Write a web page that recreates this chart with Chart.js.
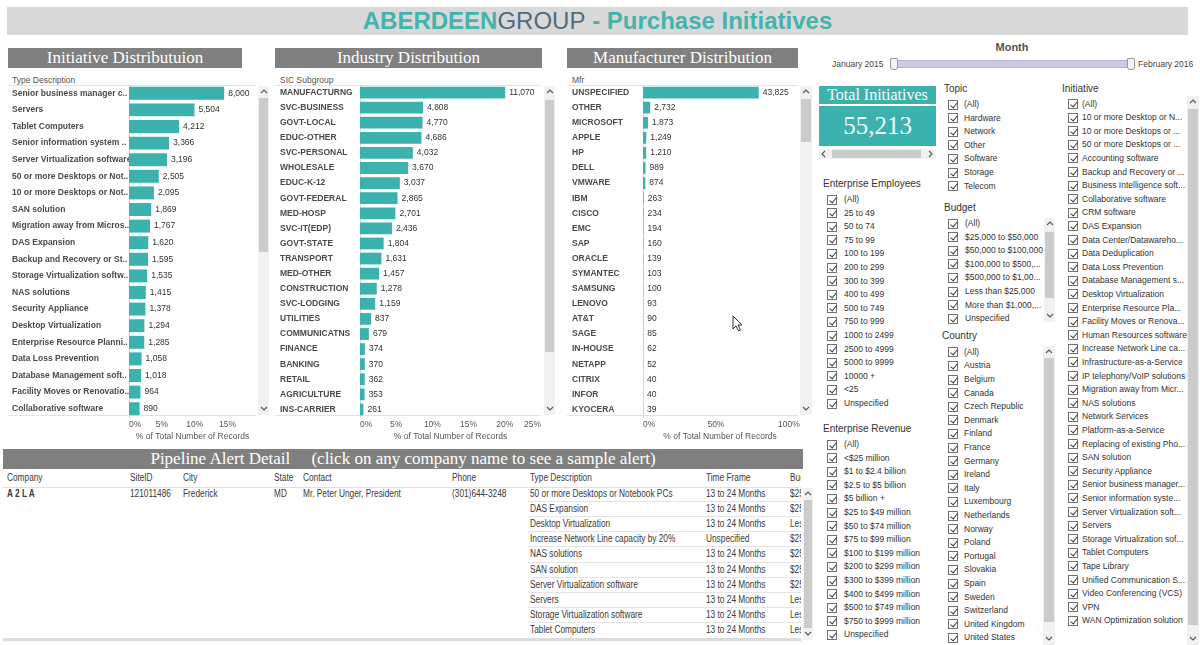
<!DOCTYPE html>
<html>
<head>
<meta charset="utf-8">
<title>ABERDEENGROUP - Purchase Initiatives</title>
<script src="https://cdn.jsdelivr.net/npm/chart.js@4.4.1/dist/chart.umd.min.js"></script>
<style>
  * { box-sizing: border-box; }
  body { margin: 0; width: 1200px; height: 645px; overflow: hidden; position: relative; background: #fff;
         font-family: "Liberation Sans", Arial, sans-serif; color: #333; }
  .a { position: absolute; white-space: nowrap; }
  .banner { left: 7px; top: 7px; width: 1181px; height: 28px; background: #d9d9d9; text-align: center;
            font: bold 24px/28px "Liberation Sans", sans-serif; color: #45b3ae; }
  .banner .g { color: #4f6d7e; font-weight: normal; }
  .hdr { background: #808080; color: #fff; font: 17px/20px "Liberation Serif", serif; text-align: center; height: 20px; }
  .sub { font-size: 8.5px; color: #555; }
  .pane { border-top: 1px solid #e3e3e3; border-bottom: 1px solid #e3e3e3; }
  .sb { background: #f1f1f1; }
  .th { position: absolute; background: #cbcbcb; }
  .ttl { font-size: 10px; color: #333; }
  .it { font-size: 8.5px; line-height: 13px; color: #333; }
  .cb { position: absolute; width: 10px; height: 10px; border: 1px solid #707070; background: #fff; }
  .cb::after { content: ""; position: absolute; left: 2.5px; top: 0px; width: 3px; height: 6px; border: solid #3a3a3a;
               border-width: 0 1.4px 1.4px 0; transform: rotate(40deg); }
  .tbl { font-family: "Liberation Sans", Arial, sans-serif; font-size: 10px; color: #3a3a3a; line-height: 12px;
         transform: scaleX(0.83); transform-origin: 0 50%; }
  canvas { position: absolute; }
</style>
</head>
<body>
<div class="a banner">ABERDEEN<span class="g">GROUP</span> - Purchase Initiatives</div>

<div class="a hdr" style="left:8px;top:48px;width:234px">Initiative Distributuion</div>
<div class="a hdr" style="left:275px;top:48px;width:267px">Industry Distribution</div>
<div class="a hdr" style="left:567px;top:48px;width:231px">Manufacturer Distribution</div>

<div class="a sub" style="left:12px;top:75px">Type Description</div>
<div class="a sub" style="left:280px;top:75px">SIC Subgroup</div>
<div class="a sub" style="left:572px;top:75px">Mfr</div>

<div class="a pane" style="left:8px;top:85px;width:248px;height:331px"></div>
<div class="a pane" style="left:275px;top:85px;width:266px;height:331px"></div>
<div class="a pane" style="left:567px;top:85px;width:231px;height:331px"></div>

<canvas id="initChart" width="252" height="368" style="left:8px;top:77px"></canvas>
<canvas id="indChart" width="276" height="368" style="left:275px;top:77px"></canvas>
<canvas id="mfrChart" width="233" height="368" style="left:567px;top:77px"></canvas>

<div id="side"></div>

<script>
const teal = '#3bb2ae';
const totalRecords = 55213;

// Initiative Distributuion
const initiativeLabels = ['Senior business manager c..', 'Servers', 'Tablet Computers', 'Senior information system ..',
  'Server Virtualization software', '50 or more Desktops or Not..', '10 or more Desktops or Not..', 'SAN solution',
  'Migration away from Micros..', 'DAS Expansion', 'Backup and Recovery or St..', 'Storage Virtualization softw..',
  'NAS solutions', 'Security Appliance', 'Desktop Virtualization', 'Enterprise Resource Planni..',
  'Data Loss Prevention', 'Database Management soft..', 'Facility Moves or Renovatio..', 'Collaborative software'];
const initiativeCounts = [8000, 5504, 4212, 3366, 3196, 2505, 2095, 1869, 1767, 1620,
  1595, 1535, 1415, 1378, 1294, 1285, 1058, 1018, 964, 890];
const initiativeTicks = [0, 5, 10, 15];

// Industry Distribution
const industryLabels = ['MANUFACTURNG', 'SVC-BUSINESS', 'GOVT-LOCAL', 'EDUC-OTHER', 'SVC-PERSONAL', 'WHOLESALE',
  'EDUC-K-12', 'GOVT-FEDERAL', 'MED-HOSP', 'SVC-IT(EDP)', 'GOVT-STATE', 'TRANSPORT', 'MED-OTHER', 'CONSTRUCTION',
  'SVC-LODGING', 'UTILITIES', 'COMMUNICATNS', 'FINANCE', 'BANKING', 'RETAIL', 'AGRICULTURE', 'INS-CARRIER'];
const industryCounts = [11070, 4808, 4770, 4686, 4032, 3670, 3037, 2865, 2701, 2436, 1804,
  1631, 1457, 1278, 1159, 837, 679, 374, 370, 362, 353, 261];
const industryTicks = [0, 5, 10, 15, 20, 25];

// Manufacturer Distribution
const mfrLabels = ['UNSPECIFIED', 'OTHER', 'MICROSOFT', 'APPLE', 'HP', 'DELL', 'VMWARE', 'IBM', 'CISCO', 'EMC', 'SAP',
  'ORACLE', 'SYMANTEC', 'SAMSUNG', 'LENOVO', 'AT&T', 'SAGE', 'IN-HOUSE', 'NETAPP', 'CITRIX', 'INFOR', 'KYOCERA'];
const mfrCounts = [43825, 2732, 1873, 1249, 1210, 989, 874, 263, 234, 194, 160,
  139, 103, 100, 93, 90, 85, 62, 52, 40, 40, 39];
const mfrTicks = [0, 50, 100];

// filter lists
const topicItems = ['(All)', 'Hardware', 'Network', 'Other', 'Software', 'Storage', 'Telecom'];
const employeeItems = ['(All)', '25 to 49', '50 to 74', '75 to 99', '100 to 199', '200 to 299', '300 to 399', '400 to 499',
  '500 to 749', '750 to 999', '1000 to 2499', '2500 to 4999', '5000 to 9999', '10000 +', '<25', 'Unspecified'];
const revenueItems = ['(All)', '<$25 million', '$1 to $2.4 billion', '$2.5 to $5 billion', '$5 billion +', '$25 to $49 million',
  '$50 to $74 million', '$75 to $99 million', '$100 to $199 million', '$200 to $299 million', '$300 to $399 million',
  '$400 to $499 million', '$500 to $749 million', '$750 to $999 million', 'Unspecified'];
const budgetItems = ['(All)', '$25,000 to $50,000', '$50,000 to $100,000', '$100,000 to $500,...', '$500,000 to $1,00...',
  'Less than $25,000', 'More than $1,000,...', 'Unspecified'];
const countryItems = ['(All)', 'Austria', 'Belgium', 'Canada', 'Czech Republic', 'Denmark', 'Finland', 'France', 'Germany',
  'Ireland', 'Italy', 'Luxembourg', 'Netherlands', 'Norway', 'Poland', 'Portugal', 'Slovakia', 'Spain', 'Sweden',
  'Switzerland', 'United Kingdom', 'United States'];
const initiativeFilterItems = ['(All)', '10 or more Desktop or N...', '10 or more Desktops or ...', '50 or more Desktops or ...',
  'Accounting software', 'Backup and Recovery or ...', 'Business Intelligence soft...', 'Collaborative software',
  'CRM software', 'DAS Expansion', 'Data Center/Datawareho...', 'Data Deduplication', 'Data Loss Prevention',
  'Database Management s...', 'Desktop Virtualization', 'Enterprise Resource Pla...', 'Facility Moves or Renova...',
  'Human Resources software', 'Increase Network Line ca...', 'Infrastructure-as-a-Service', 'IP telephony/VoIP solutions',
  'Migration away from Micr...', 'NAS solutions', 'Network Services', 'Platform-as-a-Service', 'Replacing of existing Pho...',
  'SAN solution', 'Security Appliance', 'Senior business manager...', 'Senior information syste...',
  'Server Virtualization soft...', 'Servers', 'Storage Virtualization sof...', 'Tablet Computers', 'Tape Library',
  'Unified Communication S...', 'Video Conferencing (VCS)', 'VPN', 'WAN Optimization solution'];

// pipeline table
const pipeHeaders = ['Company', 'SiteID', 'City', 'State', 'Contact', 'Phone', 'Type Description', 'Time Frame', 'Budget'];
const pipeCompany = ['A 2 L A', '121011486', 'Frederick', 'MD', 'Mr. Peter Unger, President', '(301)644-3248'];
const pipeTypes = ['50 or more Desktops or Notebook PCs', 'DAS Expansion', 'Desktop Virtualization',
  'Increase Network Line capacity by 20%', 'NAS solutions', 'SAN solution', 'Server Virtualization software',
  'Servers', 'Storage Virtualization software', 'Tablet Computers'];
const pipeTimeFrames = ['13 to 24 Months', '13 to 24 Months', '13 to 24 Months', 'Unspecified', '13 to 24 Months',
  '13 to 24 Months', '13 to 24 Months', '13 to 24 Months', '13 to 24 Months', '13 to 24 Months'];
const pipeBudgets = ['$25,000 to $50,000', '$25,000 to $50,000', 'Less than $25,000', '$25,000 to $50,000',
  '$25,000 to $50,000', '$25,000 to $50,000', '$25,000 to $50,000', 'Less than $25,000', 'Less than $25,000',
  'Less than $25,000'];

// 柱子末端的数值标签
const valueLabels = counts => ({
  id: 'valueLabels',
  afterDatasetsDraw (chart) {
    const ctx = chart.ctx;
    ctx.save();
    ctx.font = '8.5px "Liberation Sans", Arial, sans-serif';
    ctx.fillStyle = '#333';
    ctx.textBaseline = 'middle';
    chart.getDatasetMeta(0).data.forEach((bar, i) => {
      ctx.fillText(counts[i].toLocaleString('en-US'), bar.x + 4, bar.y);
    });
    ctx.restore();
  }
});

function drawBars (id, labels, counts, cfg) {
  const pct = counts.map(v => v / totalRecords * 100);
  return new Chart(document.getElementById(id), {
    type: 'bar',
    data: {
      labels,
      datasets: [{ data: pct, backgroundColor: teal, barPercentage: 0.78, categoryPercentage: 1 }]
    },
    options: {
      indexAxis: 'y',
      responsive: false,
      animation: false,
      layout: { padding: { left: cfg.padL, right: cfg.padR, top: 8, bottom: 0 } },
      plugins: { legend: { display: false }, tooltip: { enabled: false } },
      scales: {
        y: {
          grid: { display: false },
          border: { color: '#d9d9d9' },
          ticks: {
            autoSkip: false, crossAlign: 'far', padding: 0, color: '#4a4a4a',
            font: { family: '"Liberation Sans", Arial, sans-serif', size: 8.5, weight: 'bold' }
          },
          afterFit: s => { s.width = cfg.labelW; }
        },
        x: {
          min: 0,
          max: cfg.max,
          grid: { display: false, drawTicks: false },
          border: { display: false },
          ticks: {
            align: 'inner', padding: 3, color: '#555', maxRotation: 0,
            font: { family: '"Liberation Sans", Arial, sans-serif', size: 8.5 },
            callback: v => cfg.ticks.includes(v) ? v + '%' : ''
          },
          afterBuildTicks: s => {
            const vals = cfg.ticks.includes(cfg.max) ? cfg.ticks : cfg.ticks.concat([cfg.max]);
            s.ticks = vals.map(v => ({ value: v }));
          },
          title: {
            display: true, text: '% of Total Number of Records', color: '#555',
            font: { family: '"Liberation Sans", Arial, sans-serif', size: 8.5 }, padding: { top: 0, bottom: 3 }
          },
          afterFit: s => { s.height = 28; }
        }
      }
    },
    plugins: [valueLabels(counts)]
  });
}

drawBars('initChart', initiativeLabels, initiativeCounts, { labelW: 117, padL: 4, padR: 4, max: 19.33, ticks: initiativeTicks });
drawBars('indChart', industryLabels, industryCounts, { labelW: 80, padL: 5, padR: 10, max: 25, ticks: industryTicks });
drawBars('mfrChart', mfrLabels, mfrCounts, { labelW: 71, padL: 5, padR: 2, max: 105.6, ticks: mfrTicks });

// ---- 其余 dashboard 部件 ----
const side = document.getElementById('side');
function el (cls, style, html) {
  const d = document.createElement('div');
  d.className = 'a ' + (cls || '');
  d.style.cssText = style;
  if (html !== undefined) d.innerHTML = html;
  side.appendChild(d);
  return d;
}
const chevron = dir => {
  const p = { up: '1,5 4,2 7,5', down: '1,2 4,5 7,2', left: '5,1 2,4 5,7', right: '2,1 5,4 2,7' }[dir];
  return `<svg width="8" height="8"><polyline points="${p}" fill="none" stroke="#555" stroke-width="1.1"/></svg>`;
};
function vscroll (x, y, w, h, t0, t1) {
  el('sb', `left:${x}px;top:${y}px;width:${w}px;height:${h}px`);
  el('th', `left:${x + 1}px;top:${t0}px;width:${w - 2}px;height:${t1 - t0}px`);
  el('', `left:${x + (w - 8) / 2}px;top:${y + 2}px;width:8px;height:8px;line-height:0`, chevron('up'));
  el('', `left:${x + (w - 8) / 2}px;top:${y + h - 10}px;width:8px;height:8px;line-height:0`, chevron('down'));
}
function checklist (title, tx, ty, cbX, textX, y0, items, clipBottom) {
  el('ttl', `left:${tx}px;top:${ty - 6}px`, title);
  items.forEach((t, i) => {
    const y = y0 + i * 13.6;
    if (clipBottom && y > clipBottom) return;
    el('cb', `left:${cbX}px;top:${y - 5}px`);
    el('it', `left:${textX}px;top:${y - 6.5}px`, t.replace(/</g, '&lt;'));
  });
}

// chart scrollbars
vscroll(258, 86, 11, 329, 98, 252);
vscroll(544, 86, 11, 329, 100, 352);
vscroll(800, 86, 12, 329, 99, 142);

// Month slider
el('', 'left:990px;top:41px;width:44px;text-align:center;font:bold 11px "Liberation Sans",sans-serif;color:#555', 'Month');
el('', 'left:832px;top:59px;font-size:8.5px;color:#444', 'January 2015');
el('', 'left:1138px;top:59px;font-size:8.5px;color:#444', 'February 2016');
el('', 'left:893px;top:60px;width:240px;height:8px;background:#cdcbe4;border:1px solid #b4b2cc');
el('', 'left:890px;top:58px;width:8px;height:12px;background:#f4f4f4;border:1px solid #999;border-radius:1px 1px 3px 3px');
el('', 'left:1127px;top:58px;width:8px;height:12px;background:#f4f4f4;border:1px solid #999;border-radius:1px 1px 3px 3px');

// Total Initiatives
el('', `left:819px;top:86px;width:117px;height:18px;background:${teal};color:#fff;text-align:center;font:16px/18px "Liberation Serif",serif`, 'Total Initiatives');
el('', `left:819px;top:106px;width:117px;height:40px;background:${teal};color:#f2fbfa;text-align:center;font:25px/40px "Liberation Serif",serif`,
  totalRecords.toLocaleString('en-US'));
el('sb', 'left:819px;top:149px;width:117px;height:10px');
el('th', 'left:832px;top:150px;width:89px;height:8px');
el('', 'left:820px;top:150px;width:8px;height:8px;line-height:0', chevron('left'));
el('', 'left:927px;top:150px;width:8px;height:8px;line-height:0', chevron('right'));

// filters
checklist('Topic', 944, 89, 948, 964, 104.5, topicItems);
checklist('Enterprise Employees', 823, 184, 827, 844, 199.5, employeeItems);
checklist('Enterprise Revenue', 823, 429, 827, 844, 444.5, revenueItems);
checklist('Budget', 944, 208, 948, 965, 223.5, budgetItems);
vscroll(1044, 218, 11, 104, 232, 298);
checklist('Country', 942, 336, 948, 964, 352.3, countryItems);
vscroll(1043, 346, 12, 299, 358, 622);
checklist('Initiative', 1062, 89, 1068, 1082, 104, initiativeFilterItems, 630);
vscroll(1187, 96, 12, 549, 109, 625);

// Pipeline Alert Detail
el('hdr', 'left:3px;top:449px;width:800px;white-space:pre',
  'Pipeline Alert Detail     (click on any company name to see a sample alert)');
const colX = [7, 130, 183, 274, 303, 452, 530, 706, 790];
const tbl = el('', 'left:0;top:470px;width:801px;height:172px;overflow:hidden');
function cell (x, y, text, extra) {
  const d = document.createElement('div');
  d.className = 'a tbl';
  d.style.cssText = `left:${x}px;top:${y - 470 - 6}px;${extra || ''}`;
  d.textContent = text;
  tbl.appendChild(d);
}
pipeHeaders.forEach((h, i) => cell(colX[i], 478, h));
pipeCompany.forEach((t, i) => cell(colX[i], 494, t, i === 0 ? 'font-weight:bold' : ''));
pipeTypes.forEach((t, i) => {
  const y = 494 + i * 15.1;
  cell(colX[6], y, t);
  cell(colX[7], y, pipeTimeFrames[i]);
  cell(colX[8], y, pipeBudgets[i]);
  if (i > 0) {
    const line = document.createElement('div');
    line.className = 'a';
    line.style.cssText = `left:527px;top:${y - 470 - 8}px;width:274px;height:1px;background:#e4e4e4`;
    tbl.appendChild(line);
  }
});
el('', 'left:3px;top:487px;width:798px;height:1px;background:#e0e0e0');
el('', 'left:3px;top:638px;width:798px;height:3px;background:#dcdcdc');
vscroll(803, 488, 10, 152, 500, 628);

// mouse pointer
el('', 'left:732px;top:315px;width:12px;height:18px;line-height:0',
  '<svg width="12" height="18"><path d="M1,1 L1,14 L4,11 L6.5,16 L8.5,15 L6,10 L10,10 Z" fill="#fff" stroke="#333" stroke-width="1"/></svg>');
</script>
</body>
</html>
